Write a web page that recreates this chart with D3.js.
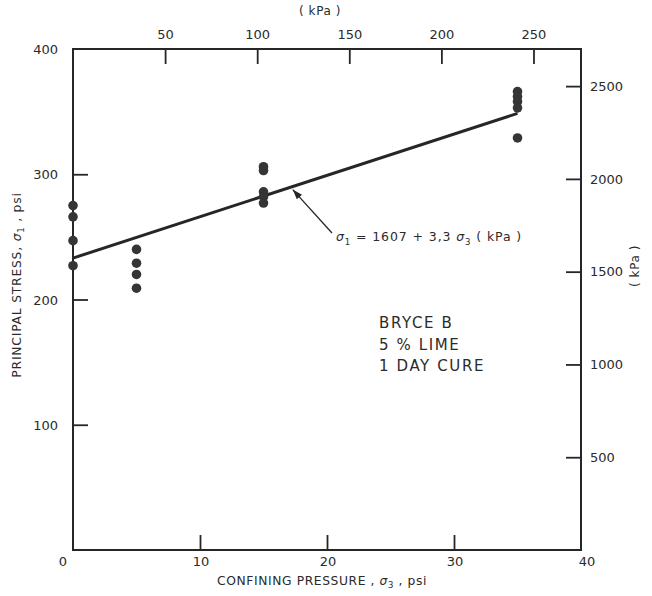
<!DOCTYPE html>
<html>
<head>
<meta charset="utf-8">
<script src="https://cdn.jsdelivr.net/npm/d3@7"></script>
<style>
  html, body { margin: 0; padding: 0; background: #fff; }
  svg text { font-family: "DejaVu Sans", sans-serif; fill: #2b2b2b; }
</style>
</head>
<body>
<svg id="chart" width="652" height="596"></svg>
<script>
// Confining pressure (psi) of each triaxial test
const confiningPsi = [0, 0, 0, 0, 5, 5, 5, 5, 15, 15, 15, 15, 15, 35, 35, 35, 35, 35];
// Principal stress at failure (psi)
const principalPsi = [275, 266, 247, 227, 240, 229, 220, 209, 306, 303, 286, 282, 277, 366, 362, 358, 353, 329];

// Fitted envelope: sigma1 = 1607 + 3.3 sigma3 (kPa)
const fitIntercept = 1607;
const fitSlope = 3.3;
const kPaPerPsi = 6.895;
const fitRangePsi = [0, 35];

// Tick values for the four axes
const bottomTicks = [10, 20, 30];
const bottomLabels = ["0", "10", "20", "30", "40"];
const leftTicks = [100, 200, 300];
const leftLabels = ["100", "200", "300", "400"];
const topTicks = [50, 100, 150, 200, 250];
const rightTicks = [500, 1000, 1500, 2000, 2500];

const caption = ["BRYCE B", "5 % LIME", "1 DAY CURE"];

const svg = d3.select("#chart");
const L = 73, R = 581, T = 49, B = 550;

const x = d3.scaleLinear().domain([0, 40]).range([L, R]);
const y = d3.scaleLinear().domain([0, 400]).range([B, T]);
const xk = d3.scaleLinear().domain([0, 40 * kPaPerPsi]).range([L, R]);
const yk = d3.scaleLinear().domain([0, 2700]).range([B, T]);

const ink = "#262626";
const tickLen = 15;
const tickFont = 13;

// frame
svg.append("rect")
  .attr("x", L).attr("y", T).attr("width", R - L).attr("height", B - T)
  .attr("fill", "none").attr("stroke", ink).attr("stroke-width", 2);

function styleAxis(g) {
  g.select(".domain").remove();
  g.selectAll(".tick line").attr("stroke", ink).attr("stroke-width", 1.8);
  g.selectAll(".tick text").attr("font-size", tickFont).attr("fill", "#2b2b2b")
    .attr("font-family", "DejaVu Sans, sans-serif");
}

// bottom axis (psi)
svg.append("g").attr("transform", `translate(0,${B})`)
  .call(d3.axisBottom(x).tickValues(bottomTicks).tickSize(-tickLen).tickFormat(() => ""))
  .call(styleAxis);
svg.append("g").selectAll("text").data([0, 10, 20, 30, 40]).join("text")
  .attr("x", (d, i) => x(d) + (i === 0 ? -10 : i === 4 ? 6 : 1))
  .attr("y", B + 16)
  .attr("text-anchor", "middle").attr("font-size", tickFont)
  .text((d, i) => bottomLabels[i]);

// left axis (psi)
svg.append("g").attr("transform", `translate(${L},0)`)
  .call(d3.axisLeft(y).tickValues(leftTicks).tickSize(-tickLen).tickFormat(() => ""))
  .call(styleAxis);
svg.append("g").selectAll("text").data([100, 200, 300, 400]).join("text")
  .attr("x", L - 15).attr("y", d => y(d) + 5)
  .attr("text-anchor", "end").attr("font-size", tickFont)
  .text((d, i) => leftLabels[i]);

// top axis (kPa)
svg.append("g").attr("transform", `translate(0,${T})`)
  .call(d3.axisTop(xk).tickValues(topTicks).tickSize(-tickLen).tickPadding(10))
  .call(styleAxis);

// right axis (kPa)
svg.append("g").attr("transform", `translate(${R},0)`)
  .call(d3.axisRight(yk).tickValues(rightTicks).tickSize(-tickLen).tickPadding(9)
    .tickFormat(d3.format("d")))
  .call(styleAxis);

// axis titles
svg.append("text").attr("x", 320).attr("y", 15)
  .attr("text-anchor", "middle").attr("font-size", 12).attr("letter-spacing", 0.6)
  .text("( kPa )");

svg.append("text").attr("transform", "translate(639,266) rotate(-90)")
  .attr("text-anchor", "middle").attr("font-size", 12).attr("letter-spacing", 0.6)
  .text("( kPa )");

const xt = svg.append("text").attr("x", 322).attr("y", 585)
  .attr("text-anchor", "middle").attr("font-size", 12.3).attr("letter-spacing", 0.6);
xt.append("tspan").text("CONFINING PRESSURE ,");
xt.append("tspan").attr("font-style", "italic").text(" σ");
xt.append("tspan").attr("font-size", 8.5).attr("dy", 3).text("3");
xt.append("tspan").attr("dy", -3).text(" , psi");

const yt = svg.append("text").attr("transform", "translate(21,285) rotate(-90)")
  .attr("text-anchor", "middle").attr("font-size", 12.3).attr("letter-spacing", 0.8);
yt.append("tspan").text("PRINCIPAL STRESS,");
yt.append("tspan").attr("font-style", "italic").text(" σ");
yt.append("tspan").attr("font-size", 8.5).attr("dy", 3).text("1");
yt.append("tspan").attr("dy", -3).text(" , psi");

// fitted line, evaluated in kPa and drawn in psi
const fitPsi = s => (fitIntercept + fitSlope * s * kPaPerPsi) / kPaPerPsi;
svg.append("line")
  .attr("x1", x(fitRangePsi[0])).attr("y1", y(fitPsi(fitRangePsi[0])))
  .attr("x2", x(fitRangePsi[1])).attr("y2", y(fitPsi(fitRangePsi[1])))
  .attr("stroke", ink).attr("stroke-width", 3);

// test points
svg.append("g").selectAll("circle").data(confiningPsi).join("circle")
  .attr("cx", d => x(d)).attr("cy", (d, i) => y(principalPsi[i]))
  .attr("r", 4.8).attr("fill", "#353535");

// leader arrow to the fitted line
const arrowAt = 17.3;
const tipX = x(arrowAt), tipY = y(fitPsi(arrowAt)) + 3;
const tailX = 332, tailY = 233;
svg.append("line")
  .attr("x1", tailX).attr("y1", tailY).attr("x2", tipX).attr("y2", tipY)
  .attr("stroke", ink).attr("stroke-width", 1.3);
const ang = Math.atan2(tipY - tailY, tipX - tailX);
const ah = 10, aw = 3.5;
const bx = tipX - ah * Math.cos(ang), by = tipY - ah * Math.sin(ang);
svg.append("path")
  .attr("d", `M${tipX},${tipY} L${bx + aw * Math.sin(ang)},${by - aw * Math.cos(ang)} L${bx - aw * Math.sin(ang)},${by + aw * Math.cos(ang)} Z`)
  .attr("fill", ink);

const eq = svg.append("text").attr("x", 336).attr("y", 241)
  .attr("font-size", 12.5).attr("letter-spacing", 0.9);
eq.append("tspan").attr("font-style", "italic").text("σ");
eq.append("tspan").attr("font-size", 8.5).attr("dy", 4).text("1");
eq.append("tspan").attr("dy", -4).text(" = 1607 + 3,3 ");
eq.append("tspan").attr("font-style", "italic").text("σ");
eq.append("tspan").attr("font-size", 8.5).attr("dy", 4).text("3");
eq.append("tspan").attr("dy", -4).text("  ( kPa )");

// sample description
svg.append("g").selectAll("text").data(caption).join("text")
  .attr("x", 379).attr("y", (d, i) => 328 + i * 21.5)
  .attr("font-size", 15).attr("letter-spacing", 1.6)
  .text(d => d);
</script>
</body>
</html>
